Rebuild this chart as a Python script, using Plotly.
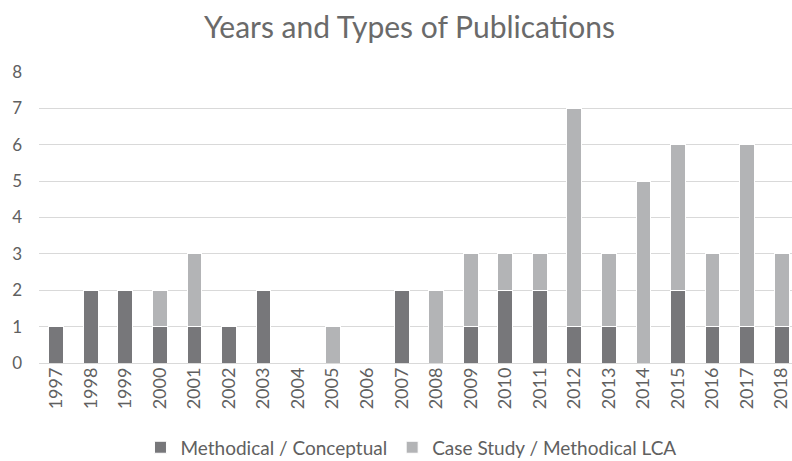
import plotly.graph_objects as go

years = [str(y) for y in range(1997, 2019)]
methodical = [1, 2, 2, 1, 1, 1, 2, 0, 0, 0, 2, 0, 1, 2, 2, 1, 1, 0, 2, 1, 1, 1]
case_study = [0, 0, 0, 1, 2, 0, 0, 0, 1, 0, 0, 2, 2, 1, 1, 6, 2, 5, 4, 2, 5, 2]

FONT = "Lato"
TXT = "#606060"

fig = go.Figure()
fig.add_trace(go.Bar(x=years, y=methodical, name="Methodical / Conceptual",
                     marker=dict(color="#77777a", line=dict(color="white", width=1))))
fig.add_trace(go.Bar(x=years, y=case_study, name="Case Study / Methodical LCA",
                     marker=dict(color="#b3b4b6", line=dict(color="white", width=1))))

fig.update_layout(
    barmode="stack",
    bargap=0.57,
    width=792, height=461,
    margin=dict(l=39, r=0, t=72, b=98, autoexpand=False),
    paper_bgcolor="white", plot_bgcolor="white",
    font=dict(family=FONT, color=TXT, size=17),
    title=dict(text="Years and Types of Publications", x=0.517, xanchor="center",
               y=0.94, yanchor="middle", font=dict(size=30, color="#6a6a6a", family=FONT)),
    legend=dict(orientation="h", x=0.494, xanchor="center", y=-0.29, yanchor="middle",
                font=dict(size=19, color=TXT), itemwidth=30, traceorder="normal"),
    xaxis=dict(type="category", range=[-0.5, 21.3], tickangle=-90, showgrid=False,
               showline=False, ticks="", tickfont=dict(size=18, color=TXT),
               automargin=False),
    yaxis=dict(range=[0, 8], dtick=1, showgrid=True, gridcolor="#d9d9d9", gridwidth=1,
               zeroline=True, zerolinecolor="#d9d9d9", zerolinewidth=1,
               showline=False, ticks="", tickfont=dict(size=17, color=TXT),
               ticklabelstandoff=16, automargin=False),
)

fig.write_html("out.html", config={"displayModeBar": False},
               post_script="document.body.style.margin='0';document.body.style.overflow='hidden';")
